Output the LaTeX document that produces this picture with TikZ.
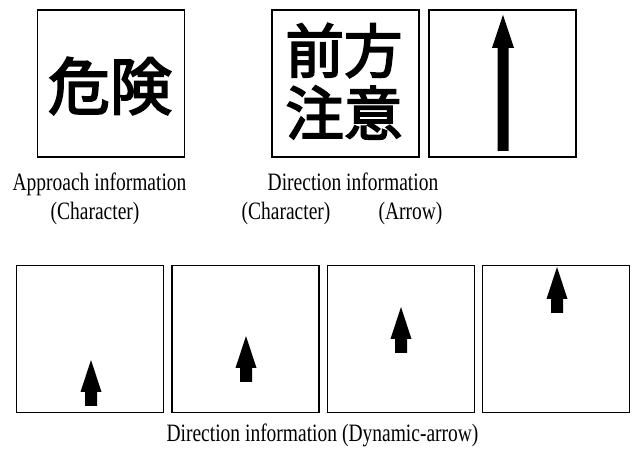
\documentclass[tikz,border=0pt]{standalone}
\usepackage{fontspec}
\setmainfont{Liberation Serif}
\newfontfamily\capfont{Liberation Serif}[FakeStretch=0.78]
\newfontfamily\cjk{Noto Sans CJK JP}[FakeBold=3]
\begin{document}
\begin{tikzpicture}[x=1pt,y=1pt,
  sign/.style={draw, line width=1.4pt, minimum width=147pt, minimum height=147pt, inner sep=0pt},
  captxt/.style={font=\capfont\fontsize{25}{28}\selectfont, anchor=base, inner sep=0pt},
  kanji/.style={font=\cjk\fontsize{62}{62}\selectfont, inner sep=0pt},
  smallarrow/.pic={\fill (0,0) -- (10.5,-32) -- (6,-32) -- (6,-46) -- (-6,-46) -- (-6,-32) -- (-10.5,-32) -- cycle;},
  bigarrow/.pic={\fill (0,0) -- (11,-33) -- (5.5,-33) -- (5.5,-136) -- (-5.5,-136) -- (-5.5,-33) -- (-11,-33) -- cycle;}]
\useasboundingbox (0,0) rectangle (633,449);
% top row
\node[sign] (s1) at (111,365.5) {};
\node[sign] (s2) at (345.5,365.5) {};
\node[sign] (s3) at (502.5,365.5) {};
\node[kanji] (k1) at (110,363) {危険};
\node[kanji, font=\cjk\fontsize{58.5}{58.5}\selectfont] (k2) at (344,398.5) {前方};
\node[kanji, font=\cjk\fontsize{58.5}{58.5}\selectfont] (k3) at (344,336.5) {注意};
\pic at (503,434) {bigarrow};
% captions top
\node[captxt] (c1) at (99.5,258) {Approach information};
\node[captxt] (c2) at (95,229) {(Character)};
\node[captxt] (c3) at (353,258) {Direction information};
\node[captxt] (c4) at (286,229) {(Character)};
\node[captxt] (c5) at (410.5,229) {(Arrow)};
% bottom row
\node[sign] (d1) at (90,110) {};
\node[sign] (d2) at (245.5,110) {};
\node[sign] (d3) at (401,110) {};
\node[sign] (d4) at (556,110) {};
\pic at (91,89) {smallarrow};
\pic at (246,113) {smallarrow};
\pic at (401,142) {smallarrow};
\pic at (557,182) {smallarrow};
\node[captxt] (c6) at (322.5,7) {Direction information (Dynamic-arrow)};
\end{tikzpicture}
\end{document}
